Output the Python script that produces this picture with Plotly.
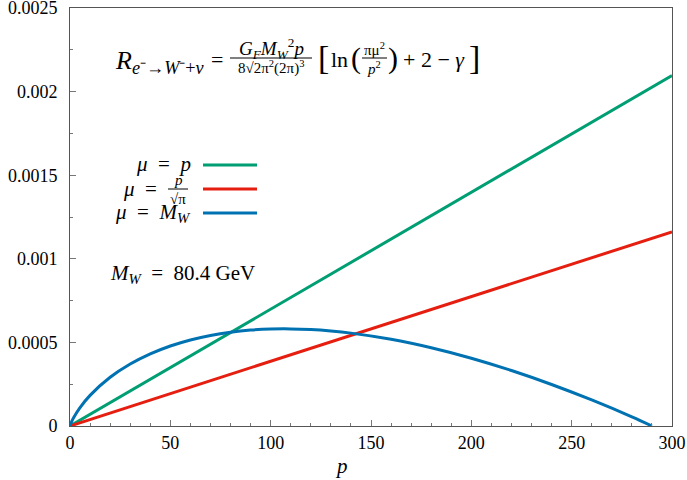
import plotly.graph_objects as go

# ---- data ----
p_lin = [0, 300]
r_mu_p = [0, 0.002096]          # mu = p
r_mu_p_sqrtpi = [0, 0.001161]   # mu = p/sqrt(pi)

p_mw = [0, 0.5, 1, 2, 5, 10, 20, 30, 40, 50, 60, 70, 80, 90, 100, 110, 120,
        130, 140, 160, 180, 200, 220, 240, 260, 280, 290]
r_mu_mw = [0, 1.73e-5, 3.09e-5, 5.42e-5, 1.105e-4, 1.833e-4, 2.912e-4, 3.705e-4,
           4.314e-4, 4.786e-4, 5.147e-4, 5.418e-4, 5.610e-4, 5.735e-4, 5.799e-4,
           5.808e-4, 5.768e-4, 5.682e-4, 5.555e-4, 5.186e-4, 4.680e-4, 4.054e-4,
           3.318e-4, 2.483e-4, 1.557e-4, 5.48e-5, 0]

x_ticks = [0, 50, 100, 150, 200, 250, 300]
y_ticks = [0, 0.0005, 0.001, 0.0015, 0.002, 0.0025]
y_tick_text = ["0", "0.0005", "0.001", "0.0015", "0.002", "0.0025"]

GREEN = "#009e73"
RED = "#e51e10"
BLUE = "#0072b2"
FONT = "Liberation Serif"
SP = "\u2002"  # en space around relation signs
TS = "\u2005"  # smaller space

W, H = 687, 480
L, R, T, B = 70, 15, 8, 54
PW, PH = W - L - R, H - T - B


def px(x):
    return (x - L) / PW


def py(y):
    return (H - B - y) / PH


fig = go.Figure()
fig.add_trace(go.Scatter(x=p_lin, y=r_mu_p, mode="lines", line=dict(color=GREEN, width=3), showlegend=False))
fig.add_trace(go.Scatter(x=p_lin, y=r_mu_p_sqrtpi, mode="lines", line=dict(color=RED, width=3), showlegend=False))
fig.add_trace(go.Scatter(x=p_mw, y=r_mu_mw, mode="lines", line=dict(color=BLUE, width=3, shape="spline"), showlegend=False))

anns = []
shapes = []


def txt(x, y, s, size=19, anchor="center"):
    anns.append(dict(x=px(x), y=py(y), xref="paper", yref="paper", text=s, showarrow=False,
                     xanchor=anchor, yanchor="middle", font=dict(family=FONT, size=size, color="black")))


def hline(x0, x1, y, color="black", width=1):
    shapes.append(dict(type="line", xref="paper", yref="paper", x0=px(x0), x1=px(x1), y0=py(y), y1=py(y),
                       line=dict(color=color, width=width)))


# formula
txt(207, 62, "<i>R</i><sub><i>e</i>⁻→<i>W</i>⁻+<i>ν</i></sub>", 26, "right")
txt(217, 59, "=", 22)
txt(271, 48, "<i>G</i><sub><i>F</i></sub><i>M</i><sub><i>W</i></sub><sup>2</sup><i>p</i>", 19)
txt(271, 68, "8√2π<sup>2</sup>(2π)<sup>3</sup>", 15)
hline(230, 312, 58)
txt(323, 58, "[", 34)
txt(329, 59, "ln", 22, "left")
txt(356, 58, "(", 30)
txt(374, 49, "πμ<sup>2</sup>", 15)
txt(374, 68, "<i>p</i><sup>2</sup>", 15)
hline(362, 387, 58)
txt(393, 58, ")", 30)
txt(401, 59, "+" + TS + "2" + TS + "−" + TS + "<i>γ</i>", 22, "left")
txt(474, 58, "]", 34)

# legend
txt(193, 164, "<i>μ</i>" + SP + "=" + SP + "<i>p</i>", 21, "right")
txt(159, 189, "<i>μ</i>" + SP + "=", 21, "right")
txt(178, 180, "<i>p</i>", 15)
txt(178, 199, "√π", 15)
hline(168, 188, 189)
txt(193, 213, "<i>μ</i>" + SP + "=" + SP + "<i>M</i><sub><i>W</i></sub>", 21, "right")
hline(203, 257, 165, GREEN, 3)
hline(203, 257, 189, RED, 3)
hline(203, 257, 213, BLUE, 3)

txt(108, 274, "<i>M</i><sub><i>W</i></sub>" + SP + "=" + SP + "80.4 GeV", 21, "left")

# x-axis title
txt(341, 466, "<i>p</i>", 21)

fig.update_layout(
    width=W, height=H,
    margin=dict(l=L, r=R, t=T, b=B, autoexpand=False),
    plot_bgcolor="white", paper_bgcolor="white",
    font=dict(family=FONT, size=18, color="black"),
    annotations=anns, shapes=shapes,
    xaxis=dict(range=[0, 300], tickvals=x_ticks, ticks="inside", ticklen=6, tickcolor="#777",
               showline=True, mirror=True, linecolor="#555", linewidth=1, showgrid=False, zeroline=False,
               minor=dict(dtick=10, ticks="inside", ticklen=3, tickcolor="#777"),
               tickfont=dict(family=FONT, size=18), ticklabeloverflow="allow", automargin=False),
    yaxis=dict(range=[0, 0.0025], tickvals=y_ticks, ticktext=y_tick_text, ticks="inside", ticklen=6,
               tickcolor="#777", showline=True, mirror=True, linecolor="#555", linewidth=1,
               showgrid=False, zeroline=False,
               minor=dict(tickvals=[0.00025, 0.00075, 0.00125, 0.00175, 0.00225], ticks="inside",
                          ticklen=3, tickcolor="#777"),
               tickfont=dict(family=FONT, size=18), ticklabelstandoff=8,
               ticklabeloverflow="allow", automargin=False),
)

fig.write_html("out.html", config={"displayModeBar": False},
               post_script="document.body.style.margin='0';")
